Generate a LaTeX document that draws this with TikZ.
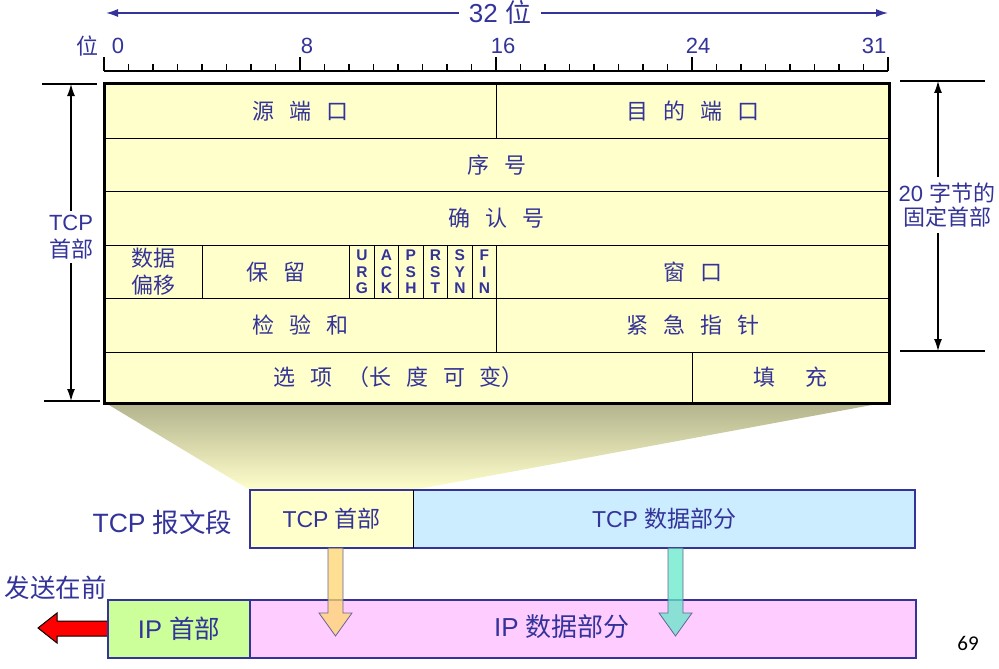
\documentclass[tikz,border=0pt]{standalone}
\usepackage{fontspec}
\setmainfont{Liberation Sans}
\newfontfamily\cjk{Noto Sans CJK SC}
\newfontfamily\pagefont{Carlito}
\usetikzlibrary{arrows.meta}

\definecolor{hdrtext}{RGB}{51,51,153}
\definecolor{hdrfill}{RGB}{255,255,204}
\definecolor{shadetop}{RGB}{178,178,140}
\definecolor{datafill}{RGB}{204,236,255}
\definecolor{ipgreen}{RGB}{204,255,153}
\definecolor{ippink}{RGB}{255,204,255}
\definecolor{orangearrow}{RGB}{255,214,110}
\definecolor{tealarrow}{RGB}{100,232,200}
\definecolor{arrowedge}{RGB}{100,100,150}

\newcommand{\fgap}{\hspace{0.68em}}

\begin{document}
\begin{tikzpicture}[
  x=1pt, y=-1pt,
  font=\fontsize{22}{26}\selectfont,
  field/.style={rectangle, draw, line width=1.2pt, fill=hdrfill, anchor=north west, inner sep=0pt,
    text=hdrtext, font=\fontsize{22}{27}\selectfont\cjk, align=center, minimum height=53.5pt},
  flagbox/.style={field, minimum width=24.5pt, font=\fontsize{15.5}{16.5}\selectfont\bfseries},
  seg/.style={rectangle, anchor=north west, inner sep=0pt, text=hdrtext, minimum height=58pt,
    font=\fontsize{23}{26}\selectfont},
  segline/.style={draw=hdrtext, line width=2pt},
  lbl/.style={text=hdrtext, align=center},
  dim/.style={draw=black, line width=1.2pt},
  blockarrow/.style={draw=arrowedge, line width=0.8pt, fill opacity=0.75},
  >={Latex[length=12pt, width=8pt]}
]
  \useasboundingbox (0,0) rectangle (999,669);

  % shadow from the header down to the segment
  \shade[top color=shadetop, bottom color=hdrfill] (104,402) -- (888,402) -- (413,490) -- (250,490) -- cycle;

  % 32 bit width
  \coordinate (wl) at (106,13);
  \coordinate (wr) at (888,13);
  \draw[<->, hdrtext, line width=1.5pt] (wl) -- (wr);
  \node[lbl, fill=white, inner xsep=10pt, font=\fontsize{26}{30}\selectfont] (wlbl) at (500,13) {32 {\cjk 位}};

  % ruler
  \draw[line width=1.2pt] (104,71) -- (888,71);
  \foreach \b in {0,...,32}
    \draw[line width=1.2pt] ({104+\b*24.5},71) -- ++(0,-7);
  \foreach \b in {0,8,16,24,32}
    \draw[line width=1.2pt] ({104+\b*24.5},71) -- ++(0,-14);
  \foreach \b/\x in {0/118,8/307,16/503,24/698,31/874}
    \node[lbl] (b\b) at (\x,46) {\b};
  \node[lbl] (bitlbl) at (87,46) {\cjk 位};

  % header fields
  \node[field, minimum width=392pt] (src) at (104,84) {源\fgap 端\fgap 口};
  \node[field, minimum width=392pt] (dst) at (496,84) {目\fgap 的\fgap 端\fgap 口};
  \node[field, minimum width=784pt] (seq) at (104,137.5) {序\fgap 号};
  \node[field, minimum width=784pt] (ack) at (104,191) {确\fgap 认\fgap 号};
  \node[field, minimum width=98pt] (off) at (104,244.5) {数据\\偏移};
  \node[field, minimum width=147pt] (rsv) at (202,244.5) {保\fgap 留};
  \foreach \f [count=\i from 0] in {{U\\R\\G},{A\\C\\K},{P\\S\\H},{R\\S\\T},{S\\Y\\N},{F\\I\\N}}
    \node[flagbox] (f\i) at ({349+\i*24.5},244.5) {\f};
  \node[field, minimum width=392pt] (win) at (496,244.5) {窗\fgap 口};
  \node[field, minimum width=392pt] (sum) at (104,298) {检\fgap 验\fgap 和};
  \node[field, minimum width=392pt] (urg) at (496,298) {紧\fgap 急\fgap 指\fgap 针};
  \node[field, minimum width=588pt, minimum height=50.5pt] (opt) at (104,351.5) {选\fgap 项\fgap （长\fgap 度\fgap 可\fgap 变）};
  \node[field, minimum width=196pt, minimum height=50.5pt] (pad) at (692,351.5) {填\fgap\fgap 充};
  \draw[line width=3pt] (src.north west) rectangle (pad.south east);

  % left: TCP header
  \coordinate (lt) at (71,84);
  \coordinate (lb) at (71,401);
  \draw[dim] (42,84) -- (97,84);
  \draw[dim] (44,401) -- (100,401);
  \draw[dim, <->] (lt) -- (lb);
  \node[lbl, fill=white, inner xsep=1pt, inner ysep=4pt, font=\fontsize{22}{27}\selectfont] (hdrlbl) at (71,237) {TCP\\{\cjk 首部}};

  % right: 20 bytes
  \coordinate (rt) at (938,81);
  \coordinate (rb) at (938,351);
  \draw[dim] (900,81) -- (985,81);
  \draw[dim] (900,351) -- (985,351);
  \draw[dim, <->] (rt) -- (rb);
  \node[lbl, fill=white, inner xsep=0pt, inner ysep=6pt, font=\fontsize{22}{24}\selectfont] (fixlbl) at (947,205) {20 {\cjk 字节的}\\{\cjk 固定首部}};

  % TCP segment
  \node[lbl, anchor=east, font=\fontsize{26.5}{30}\selectfont] (seglbl) at (236,522) {TCP {\cjk 报文段}};
  \node[seg, fill=hdrfill, minimum width=163pt] (tcph) at (250,490) {TCP {\cjk 首部}};
  \node[seg, fill=datafill, minimum width=502pt] (tcpd) at (413,490) {TCP {\cjk 数据部分}};
  \draw[segline] (tcph.north west) rectangle (tcpd.south east);
  \draw[line width=1pt] (tcph.north east) -- (tcph.south east);

  % IP datagram
  \node[lbl, font=\fontsize{25.5}{28}\selectfont\cjk] (sendlbl) at (56,588) {发送在前};
  \draw[line width=1pt, fill=red] (108,621) -- (57,621) -- (57,613) -- (38,628) -- (57,643) -- (57,636) -- (108,636) -- cycle;
  \node[seg, segline, fill=ipgreen, minimum width=142pt, font=\fontsize{25.5}{28}\selectfont] (iph) at (107,599) {IP {\cjk 首部}};
  \node[seg, segline, fill=ippink, minimum width=666pt] (ipd) at (249,599) {};
  \node[lbl, font=\fontsize{26}{28}\selectfont] (ipdlbl) at (562,627) {IP {\cjk 数据部分}};

  % mapping arrows
  \foreach \cx/\col in {335.5/orangearrow, 675.5/tealarrow}
    \draw[blockarrow, fill=\col] ({\cx-7.5},548) -- ({\cx+7.5},548) -- ({\cx+7.5},613) -- ({\cx+16.5},613)
      -- (\cx,636) -- ({\cx-16.5},613) -- ({\cx-7.5},613) -- cycle;

  \node[font=\pagefont\fontsize{21}{24}\selectfont] (pgno) at (968,643) {69};
\end{tikzpicture}
\end{document}
